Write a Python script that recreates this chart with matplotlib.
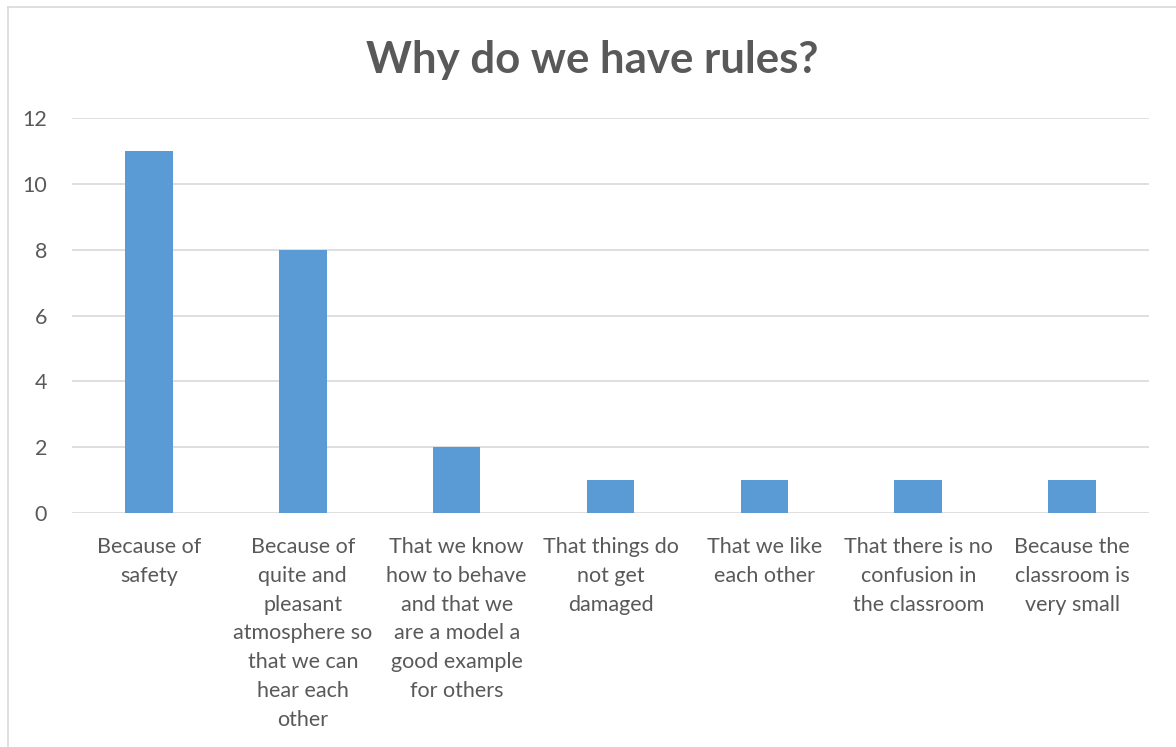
import matplotlib.pyplot as plt
from matplotlib.lines import Line2D

categories = [
    "Because of\nsafety",
    "Because of\nquite and\npleasant\natmosphere so\nthat we can\nhear each\nother",
    "That we know\nhow to behave\nand that we\nare a model a\ngood example\nfor others",
    "That things do\nnot get\ndamaged",
    "That we like\neach other",
    "That there is no\nconfusion in\nthe classroom",
    "Because the\nclassroom is\nvery small",
]
values = [11, 8, 2, 1, 1, 1, 1]
yticks = [0, 2, 4, 6, 8, 10, 12]

W, H = 1176, 747
fig = plt.figure(figsize=(W / 100, H / 100), dpi=100)
fig.patch.set_facecolor("white")
font = "Lato"
gray = "#595959"

ax = fig.add_axes([72 / W, 1 - 513 / H, (1149 - 72) / W, (513 - 118) / H])
x = list(range(len(categories)))
ax.bar(x, values, width=0.31, color="#5B9BD5", zorder=3)
ax.set_xlim(-0.5, len(categories) - 0.5)
ax.set_ylim(0, 12)
ax.set_yticks(yticks)
ax.set_yticklabels([str(t) for t in yticks], fontsize=15.5, color=gray, family=font)
ax.set_xticks(x)
ax.set_xticklabels(categories, fontsize=15.5, color=gray, family=font, linespacing=1.56, va="top")
ax.tick_params(axis="both", length=0)
ax.tick_params(axis="y", pad=18)
ax.tick_params(axis="x", pad=17)
ax.grid(axis="y", color="#D9D9D9", linewidth=1.2, zorder=0)
for s in ax.spines.values():
    s.set_visible(False)

fig.text(592 / W, 1 - 60 / H, "Why do we have rules?", ha="center", va="center",
         fontsize=31.5, fontweight="bold", color=gray, family=font)

# chart border (left and top visible)
fig.add_artist(Line2D([8 / W, 8 / W], [0, 1 - 7 / H], color="#D9D9D9", linewidth=1.2, transform=fig.transFigure))
fig.add_artist(Line2D([8 / W, 1], [1 - 7 / H, 1 - 7 / H], color="#D9D9D9", linewidth=1.2, transform=fig.transFigure))

fig.savefig("out.png", dpi=100, facecolor="white")
